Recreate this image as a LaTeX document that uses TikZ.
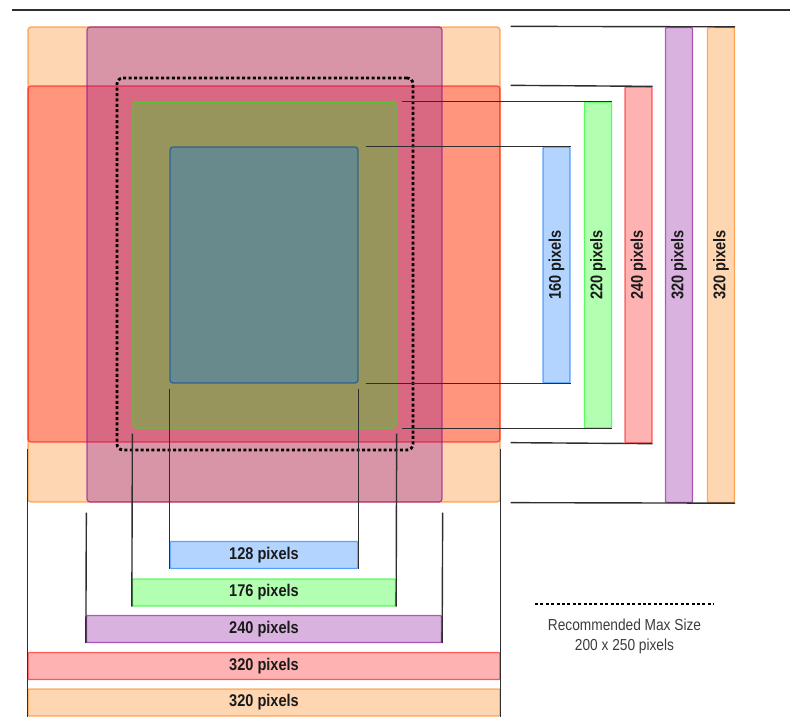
\documentclass[tikz,border=0pt]{standalone}
\usepackage{fontspec}
\setmainfont{Liberation Sans}
\newfontfamily\narrowfont[FakeStretch=0.86]{Liberation Sans}
\usetikzlibrary{positioning,calc}
\definecolor{sizeorange}{RGB}{255,120,0}
\definecolor{sizered}{RGB}{255,0,0}
\definecolor{sizepurple}{RGB}{130,0,148}
\definecolor{sizegreen}{RGB}{0,255,0}
\definecolor{sizeblue}{RGB}{0,113,252}
\definecolor{guidegray}{HTML}{2E2E2E}
\definecolor{labelink}{HTML}{1A1A1A}
\definecolor{keyink}{HTML}{3C3C3C}

\begin{document}
\begin{tikzpicture}[
    x=1bp,y=-1bp,
    area/.style={draw=#1,fill=#1,fill opacity=0.3,draw opacity=0.6,text opacity=1,line width=1.3bp,rounded corners=3bp,inner sep=0pt},
    hbar/.style={area=#1,rounded corners=1bp,minimum height=27bp,text=labelink,font=\narrowfont\bfseries\fontsize{17}{18}\selectfont},
    vbar/.style={area=#1,rounded corners=1bp,minimum width=27bp,text=labelink,font=\narrowfont\bfseries\fontsize{17}{18}\selectfont},
    limit/.style={draw=black,line width=2.8bp,dash pattern=on 3bp off 2.4bp},
    guide/.style={draw=guidegray,line width=1.4bp}
  ]
    \useasboundingbox (0,0) rectangle (790,725);
    \coordinate (ruleL) at (12,10);
    \coordinate (ruleR) at (790,10);
    \draw[guide] (ruleL) -- (ruleR);

    % screen areas
    \node[area=sizeorange,minimum width=472bp,minimum height=475bp] (o) at (264,264.5) {};
    \node[area=sizered,minimum width=472bp,minimum height=356bp] (r) at (264,264) {};
    \node[area=sizepurple,minimum width=355bp,minimum height=475bp] (p) at (264.5,264.5) {};
    \node[area=sizegreen,minimum width=263bp,minimum height=326bp] (g) at (264.5,265) {};
    \node[area=sizeblue,draw=sizeblue!60!black,minimum width=188bp,minimum height=236bp] (b) at (264,265) {};
    \node[limit,rounded corners=6bp,inner sep=0pt,minimum width=296bp,minimum height=372bp] (max) at (265,264) {};

    % heights
    \node[vbar=sizeblue,minimum height=236bp] (bbar) at (556.5,265) {\rotatebox{90}{160 pixels}};
    \node[vbar=sizegreen,minimum height=326bp,right=13.2bp of bbar] (gbar) {\rotatebox{90}{220 pixels}};
    \node[vbar=sizered,minimum height=356bp,right=12.2bp of gbar] (rbar) {\rotatebox{90}{240 pixels}};
    \node[vbar=sizepurple,minimum height=475bp,right=12.2bp of rbar] (pbar) {\rotatebox{90}{320 pixels}};
    \node[vbar=sizeorange,minimum height=475bp,right=13.7bp of pbar] (obar) {\rotatebox{90}{320 pixels}};

    % widths
    \node[hbar=sizeblue,minimum width=188bp] (bbot) at (264,555) {128 pixels};
    \node[hbar=sizegreen,minimum width=263bp,below=9.2bp of bbot] (gbot) {176 pixels};
    \node[hbar=sizepurple,minimum width=355bp,below=8.2bp of gbot] (pbot) {240 pixels};
    \node[hbar=sizered,minimum width=472bp,below=8.7bp of pbot] (rbot) {320 pixels};
    \node[hbar=sizeorange,minimum width=472bp,below=8.2bp of rbot] (obot) {320 pixels};

    \draw[guide] ([xshift=7bp]b.north east) -- (bbar.north east);
    \draw[guide] ([xshift=7bp]b.south east) -- (bbar.south east);
    \draw[guide] ([xshift=5bp]g.north east) -- (gbar.north east);
    \draw[guide] ([xshift=5bp]g.south east) -- (gbar.south east);
    \draw[guide] ([xshift=10bp]r.north east) -- (rbar.north east);
    \draw[guide] ([xshift=10bp]r.south east) -- (rbar.south east);
    \draw[guide] ([xshift=10bp]o.north east) -- (obar.north east);
    \draw[guide] ([xshift=10bp]o.south east) -- (obar.south east);

    \draw[guide] ([yshift=-5bp]b.south west) -- (bbot.south west);
    \draw[guide] ([yshift=-5bp]b.south east) -- (bbot.south east);
    \draw[guide] ([yshift=-5bp]g.south west) -- (gbot.south west);
    \draw[guide] ([yshift=-5bp]g.south east) -- (gbot.south east);
    \draw[guide] ([yshift=-10bp]p.south west) -- (pbot.south west);
    \draw[guide] ([yshift=-10bp]p.south east) -- (pbot.south east);
    \draw[guide] ([yshift=-6bp]r.south west) -- (obot.south west);
    \draw[guide] ([yshift=-6bp]r.south east) -- (obot.south east);

    % key
    \coordinate (keyL) at (535,604);
    \coordinate (keyR) at (714,604);
    \draw[limit] (keyL) -- (keyR);
    \node[align=center,text=keyink,font=\narrowfont\fontsize{16}{20}\selectfont,below=11bp of $(keyL)!0.5!(keyR)$] (key) {Recommended Max Size\\200 x 250 pixels};
  \end{tikzpicture}
\end{document}
